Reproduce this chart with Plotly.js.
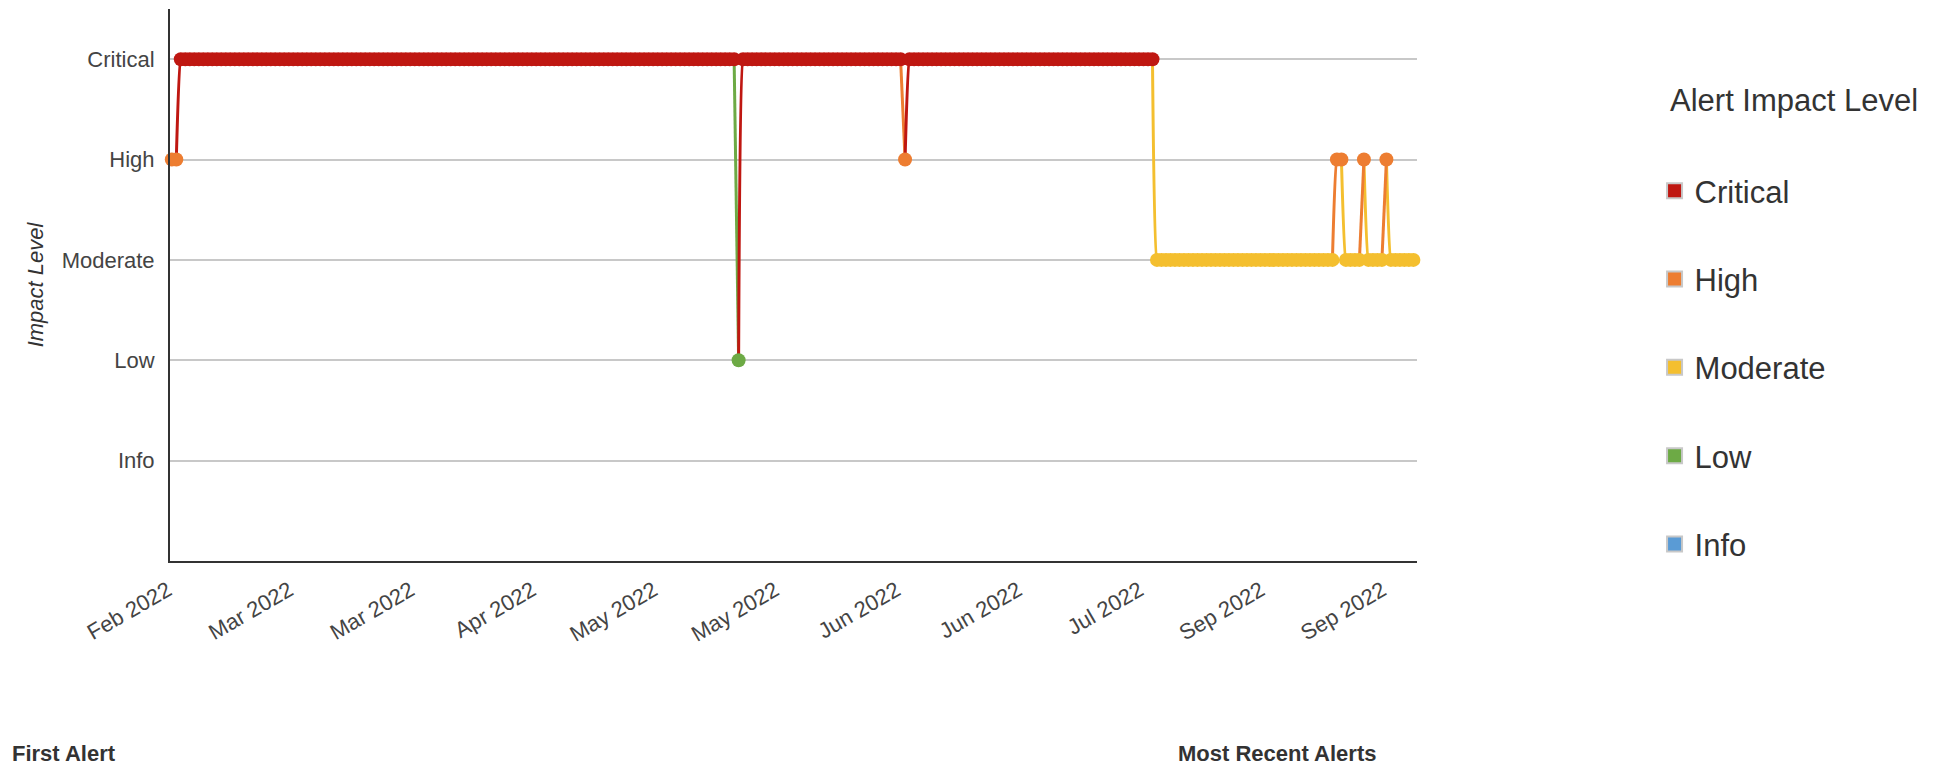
<!DOCTYPE html>
<html>
<head>
<meta charset="utf-8">
<script src="https://cdn.plot.ly/plotly-3.0.1.min.js"></script>
<style>
  html, body { margin: 0; padding: 0; background: #fff; }
  #chart { width: 1946px; height: 765px; }
</style>
</head>
<body>
<div id="chart"></div>
<script>
// ---- Data ----
const levelNames = ['Info', 'Low', 'Moderate', 'High', 'Critical'];
const levelColors = ['#5A9BD5', '#6DAA45', '#F4BF2F', '#ED7D31', '#BF1711'];

// Alert sequence (in order of occurrence), as runs of equal impact level
const runLevels = ['High', 'Critical', 'Low', 'Critical', 'High', 'Critical', 'Moderate', 'High', 'Moderate', 'High', 'Moderate', 'High', 'Moderate'];
const runLengths = [2, 124, 1, 36, 1, 55, 40, 2, 4, 1, 4, 1, 7];

// x-axis labels, one every `alertsPerLabel` alerts
const tickLabels = ['Feb 2022', 'Mar 2022', 'Mar 2022', 'Apr 2022', 'May 2022', 'May 2022', 'Jun 2022', 'Jun 2022', 'Jul 2022', 'Sep 2022', 'Sep 2022'];
const alertsPerLabel = 27;

// ---- Build traces ----
const seq = [];
runLevels.forEach((lv, r) => { for (let k = 0; k < runLengths[r]; k++) seq.push(lv); });
const N = seq.length;
const xs = seq.map((_, i) => i);
const ys = seq.map(lv => levelNames.indexOf(lv));
const colorOf = lv => levelColors[levelNames.indexOf(lv)];

const FONT = 'Liberation Sans, Arial, Helvetica, sans-serif';
const traces = [];

// line segments: the segment into point i takes the colour of point i
const segX = {}, segY = {};
levelNames.forEach(l => { segX[l] = []; segY[l] = []; });
let i = 1;
while (i < N) {
  const lv = seq[i];
  let j = i;
  while (j + 1 < N && seq[j + 1] === lv) j++;
  for (let k = i - 1; k <= j; k++) { segX[lv].push(xs[k]); segY[lv].push(ys[k]); }
  segX[lv].push(null); segY[lv].push(null);
  i = j + 1;
}
levelNames.forEach(l => {
  if (segX[l].length) {
    traces.push({
      type: 'scatter', mode: 'lines', x: segX[l], y: segY[l],
      line: { color: colorOf(l), width: 3, shape: 'spline', smoothing: 0.3 },
      connectgaps: false, showlegend: false, hoverinfo: 'skip', cliponaxis: false
    });
  }
});

// markers for every alert
traces.push({
  type: 'scatter', mode: 'markers', x: xs, y: ys,
  marker: { size: 14, color: seq.map(colorOf), line: { width: 0 } },
  showlegend: false, cliponaxis: false
});

// legend entries
['Critical', 'High', 'Moderate', 'Low', 'Info'].forEach(l => {
  traces.push({
    type: 'scatter', mode: 'markers', x: [null], y: [null], name: l, legendgroup: l,
    marker: { symbol: 'square', size: 15, color: colorOf(l), line: { color: '#c8c8c8', width: 2 } }
  });
});

const layout = {
  width: 1946, height: 765,
  margin: { l: 170, r: 529, t: 9, b: 204 },
  paper_bgcolor: '#fff', plot_bgcolor: '#fff',
  font: { family: FONT, color: '#444' },
  showlegend: true,
  xaxis: {
    range: [-0.4, 276.8],
    tickvals: tickLabels.map((_, k) => k * alertsPerLabel),
    ticktext: tickLabels,
    tickangle: -30,
    tickfont: { size: 22, color: '#444', family: FONT },
    ticklabelstandoff: 6,
    ticklabelshift: -4,
    showgrid: false, zeroline: false,
    showline: true, linecolor: '#333', linewidth: 2,
    ticks: '', fixedrange: true
  },
  yaxis: {
    range: [-1, 4.5],
    tickvals: levelNames.map((_, k) => k),
    ticktext: levelNames,
    tickfont: { size: 22, color: '#444', family: FONT },
    ticklabelstandoff: 9,
    showgrid: true, gridcolor: '#c8c8c8', gridwidth: 1.5,
    zeroline: false, showline: true, linecolor: '#333', linewidth: 2,
    ticks: '',
    title: { text: 'Impact Level', font: { size: 22, color: '#333', family: FONT, style: 'italic' }, standoff: 12 },
    fixedrange: true
  },
  legend: {
    x: 1.1905, xanchor: 'left', y: 0.719, yanchor: 'top',
    valign: 'top',
    font: { size: 31, color: '#333', family: FONT },
    tracegroupgap: 45, bgcolor: 'rgba(0,0,0,0)', borderwidth: 0
  },
  annotations: [
    { text: 'Alert Impact Level', xref: 'paper', yref: 'paper', x: 1.2009, y: 0.835,
      xanchor: 'left', yanchor: 'middle', showarrow: false,
      font: { size: 31, color: '#333', family: FONT } },
    { text: '<b>First Alert</b>', xref: 'paper', yref: 'paper', x: -0.1285, y: -0.348,
      xanchor: 'left', yanchor: 'middle', showarrow: false,
      font: { size: 22, color: '#333', family: FONT } },
    { text: '<b>Most Recent Alerts</b>', xref: 'paper', yref: 'paper', x: 0.807, y: -0.348,
      xanchor: 'left', yanchor: 'middle', showarrow: false,
      font: { size: 22, color: '#333', family: FONT } }
  ]
};

Plotly.newPlot('chart', traces, layout, { displayModeBar: false, responsive: false });
</script>
</body>
</html>
